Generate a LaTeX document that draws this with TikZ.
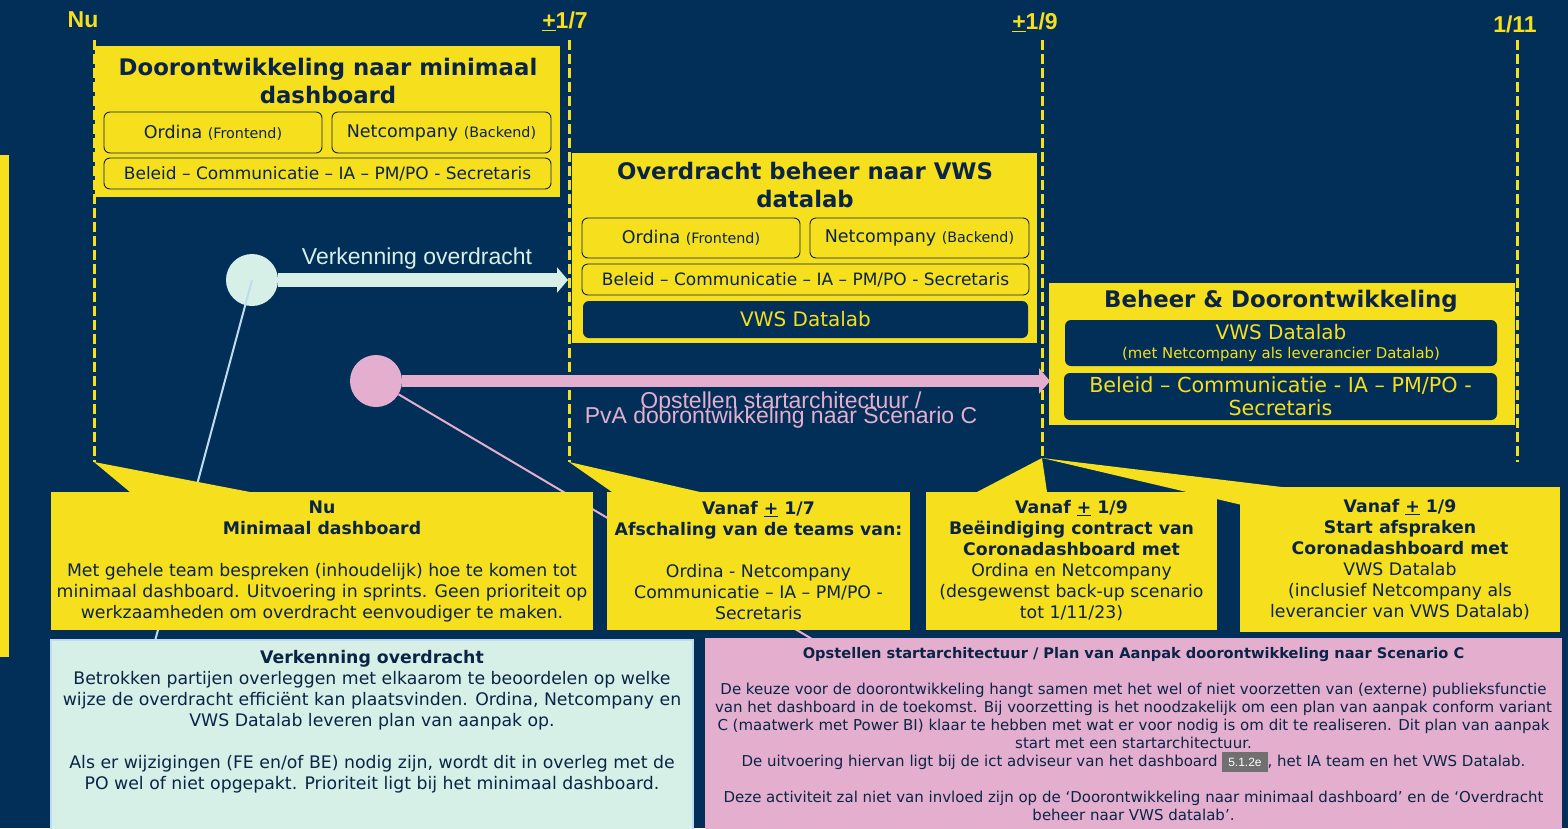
\documentclass[tikz,border=0pt]{standalone}
\usepackage{fontspec}
\setmainfont{DejaVu Sans}
\newfontfamily\arial{Liberation Sans}
\usetikzlibrary{arrows.meta}
\definecolor{vwsnavy}{RGB}{2,47,88}
\definecolor{vwsink}{RGB}{10,36,70}
\definecolor{vwsyellow}{RGB}{246,223,28}
\definecolor{vwsmint}{RGB}{214,240,232}
\definecolor{vwsmintline}{RGB}{190,220,240}
\definecolor{vwspink}{RGB}{228,174,206}
\definecolor{redgray}{RGB}{112,112,112}
\tikzset {>=Stealth,
  when/.style={text=vwsyellow, font=\arial\bfseries\fontsize{23}{23}\selectfont},
  tline/.style={vwsyellow, line width=3pt, dash pattern=on 10pt off 4pt},
  panel/.style={fill=vwsyellow, inner sep=0pt},
  ptitle/.style={text=vwsink, align=center, font=\bfseries\fontsize{22.8}{28}\selectfont},
  team/.style={draw=vwsink, fill=vwsyellow, rounded corners=6pt, line width=0.9pt, inner sep=0pt, text=vwsink},
  teamdark/.style={fill=vwsnavy, rounded corners=6pt, inner sep=0pt, text=vwsyellow, align=center},
  dot/.style={circle, minimum size=52pt, inner sep=0pt},
  flow/.style={-{Triangle[length=11pt,width=25pt]}},
  callout/.style={fill=vwsyellow, inner sep=0pt, align=center, text=vwsink, font=\fontsize{17.3}{21}\selectfont},
  note/.style={inner sep=0pt, align=center, text=vwsink}
}
\newcommand*{\pmu}{\underline{+}}
\newcommand*{\subtag}[1]{{\fontsize{14.3}{14}\selectfont #1}}

\begin{document}
\begin{tikzpicture}[x=1pt,y=-1pt]
\fill[vwsnavy] (0,0) rectangle (1568,828);
\useasboundingbox (0,0) rectangle (1568,828);
\fill[vwsyellow] (0,155) rectangle (9,657);
\node[when] (tnu) at (83,20) {Nu};
\node[when] (t17) at (565,21) {\pmu1/7};
\node[when] (t19) at (1035,22) {\pmu1/9};
\node[when] (t111) at (1515,24) {1/11};
\coordinate (nu0) at (94,462);
\coordinate (jul0) at (569,462);
\coordinate (sep0) at (1042,458);
\coordinate (nov0) at (1517,462);
\draw[tline] (94,40) -- (nu0);
\draw[tline] (569,40) -- (jul0);
\draw[tline] (1042,40) -- (sep0);
\draw[tline] (1517,40) -- (nov0);

\node[panel, minimum width=465pt, minimum height=151pt] (b1) at (327.5,121.5) {};
\node[ptitle] (b1t) at (328,81) {Doorontwikkeling naar minimaal\\dashboard};
\node[team, minimum width=218pt, minimum height=41pt, font=\fontsize{17.5}{20}\selectfont] (ord1) at (213,132.5) {Ordina \subtag{(Frontend)}};
\node[team, minimum width=219pt, minimum height=41pt, font=\fontsize{17.5}{20}\selectfont] (net1) at (441.5,132.5) {Netcompany \subtag{(Backend)}};
\node[team, minimum width=447pt, minimum height=31pt, font=\fontsize{17}{18}\selectfont] (bel1) at (327.5,173.5) {Beleid -- Communicatie -- IA -- PM/PO - Secretaris};

\node[panel, minimum width=465pt, minimum height=190pt] (b2) at (804.5,248) {};
\node[ptitle] (b2t) at (805,185) {Overdracht beheer naar VWS\\datalab};
\node[team, minimum width=218pt, minimum height=40pt, font=\fontsize{17.5}{20}\selectfont] (ord2) at (691,238) {Ordina \subtag{(Frontend)}};
\node[team, minimum width=219pt, minimum height=40pt, font=\fontsize{17.5}{20}\selectfont] (net2) at (919.5,238) {Netcompany \subtag{(Backend)}};
\node[team, minimum width=447pt, minimum height=31pt, font=\fontsize{17}{18}\selectfont] (bel2) at (805.5,279.5) {Beleid -- Communicatie -- IA -- PM/PO - Secretaris};
\node[teamdark, minimum width=445pt, minimum height=37pt, font=\fontsize{20}{22}\selectfont] (vws2) at (805.5,319.5) {VWS Datalab};

\node[panel, minimum width=466pt, minimum height=142pt] (b3) at (1282,354) {};
\node[ptitle] (b3t) at (1281,301) {Beheer \& Doorontwikkeling};
\node[teamdark, minimum width=432pt, minimum height=46pt, font=\fontsize{20}{21}\selectfont] (vws3) at (1281,343) {VWS Datalab\\[-2pt]{\fontsize{14.9}{15}\selectfont (met Netcompany als leverancier Datalab)}};
\node[teamdark, minimum width=433pt, minimum height=47pt, font=\fontsize{20.7}{23}\selectfont] (bel3) at (1280.5,396.5) {Beleid -- Communicatie - IA -- PM/PO -\\Secretaris};

\node[dot, fill=vwsmint] (vk) at (252,280) {};
\node[dot, fill=vwspink] (op) at (376,381) {};
\coordinate (vkend) at (568,280);
\coordinate (opend) at (1050,381);
\coordinate (vkfoot) at (155,641);
\coordinate (opfoot) at (812,639);
\draw[flow, vwsmint, line width=14pt] (vk) -- (vkend);
\draw[flow, vwspink, line width=12pt] (op) -- (opend);
\draw[vwsmintline, line width=2pt] (vk.center) -- (vkfoot);
\draw[vwspink, line width=2pt] (op) -- (opfoot);
\node[text=vwsmint, font=\arial\fontsize{23}{23}\selectfont] (vklab) at (417,259) {Verkenning overdracht};
\node[text=vwspink, align=center, font=\arial\fontsize{23}{23}\selectfont] (oplab) at (781,410) {Opstellen startarchitectuur /\\[-8pt]PvA doorontwikkeling naar Scenario C};

\fill[vwsyellow] (nu0) -- (130,492) -- (250,492) -- cycle;
\fill[vwsyellow] (jul0) -- (612,492) -- (700,492) -- cycle;
\fill[vwsyellow] (sep0) -- (977,492) -- (1047,492) -- cycle;
\fill[vwsyellow] (sep0) -- (1290,488) -- (1242,505) -- cycle;
\node[callout, minimum width=542pt, minimum height=138pt] (c1) at (322,561) {\textbf{Nu}\\\textbf{Minimaal dashboard}\\[21pt]Met gehele team bespreken (inhoudelijk) hoe te komen tot\\minimaal dashboard. Uitvoering in sprints. Geen prioriteit op\\werkzaamheden om overdracht eenvoudiger te maken.};
\node[callout, minimum width=303pt, minimum height=138pt] (c2) at (758.5,561) {\textbf{Vanaf \pmu\ 1/7}\\\textbf{Afschaling van de teams van:}\\[21pt]Ordina - Netcompany\\Communicatie -- IA -- PM/PO -\\Secretaris};
\node[callout, minimum width=291pt, minimum height=138pt] (c3) at (1071.5,561) {\textbf{Vanaf \pmu\ 1/9}\\\textbf{Beëindiging contract van}\\\textbf{Coronadashboard met}\\Ordina en Netcompany\\(desgewenst back-up scenario\\tot 1/11/23)};
\node[callout, minimum width=320pt, minimum height=145pt] (c4) at (1400,559.5) {\textbf{Vanaf \pmu\ 1/9}\\\textbf{Start afspraken}\\\textbf{Coronadashboard met}\\VWS Datalab\\(inclusief Netcompany als\\leverancier van VWS Datalab)};

\node[fill=vwsmint, draw=vwsmintline, line width=1.5pt, minimum width=642pt, minimum height=190pt, inner sep=0pt] (mb) at (372,735) {};
\node[note, anchor=north, font=\fontsize{17.3}{21}\selectfont] (mbt) at (372,650) {\textbf{Verkenning overdracht}\\Betrokken partijen overleggen met elkaarom te beoordelen op welke\\wijze de overdracht efficiënt kan plaatsvinden. Ordina, Netcompany en\\VWS Datalab leveren plan van aanpak op.\\[21pt]Als er wijzigingen (FE en/of BE) nodig zijn, wordt dit in overleg met de\\PO wel of niet opgepakt. Prioriteit ligt bij het minimaal dashboard.};
\node[fill=vwspink, minimum width=857pt, minimum height=192pt, inner sep=0pt] (pb) at (1133.5,734) {};
\node[note, anchor=north, font=\fontsize{15}{18}\selectfont] (pbt) at (1133.5,647) {{\bfseries\fontsize{14.6}{18}\selectfont Opstellen startarchitectuur / Plan van Aanpak doorontwikkeling naar Scenario C}\\[18pt]De keuze voor de doorontwikkeling hangt samen met het wel of niet voorzetten van (externe) publieksfunctie\\van het dashboard in de toekomst. Bij voorzetting is het noodzakelijk om een plan van aanpak conform variant\\C (maatwerk met Power BI) klaar te hebben met wat er voor nodig is om dit te realiseren. Dit plan van aanpak\\start met een startarchitectuur.\\De uitvoering hiervan ligt bij de ict adviseur van het dashboard {\fboxsep=6pt\colorbox{redgray}{\textcolor{white}{\arial\fontsize{12}{12}\selectfont 5.1.2e}}}, het IA team en het VWS Datalab.\\[18pt]Deze activiteit zal niet van invloed zijn op de `Doorontwikkeling naar minimaal dashboard' en de `Overdracht\\beheer naar VWS datalab'.};
\end{tikzpicture}
\end{document}
